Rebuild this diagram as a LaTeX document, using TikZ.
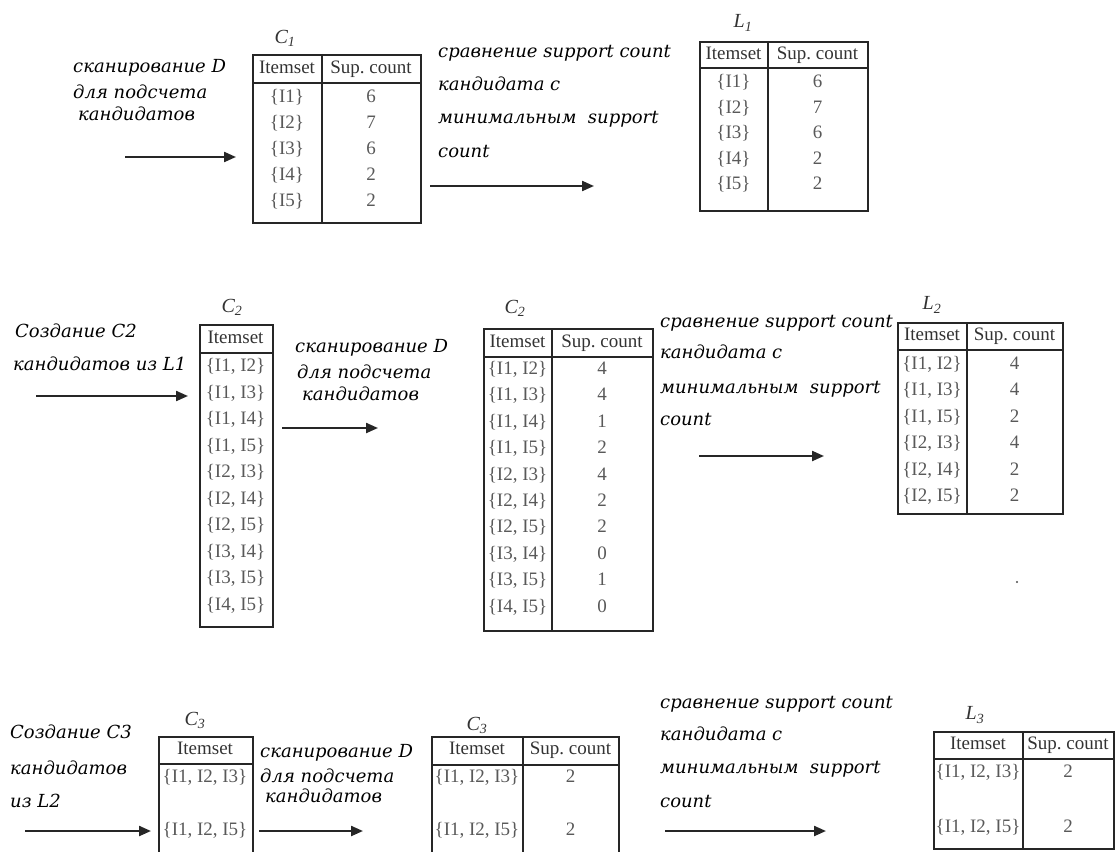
\documentclass[tikz,border=0pt]{standalone}
\usepackage{fontspec}
\setmainfont{Liberation Serif}
\newfontfamily\notefont{DejaVu Serif}
\usetikzlibrary{arrows.meta}
\tikzset{
  tbl/.style={draw=black!85, line width=2pt, inner sep=0pt, anchor=north west},
  rule/.style={draw=black!85, line width=2pt},
  cell/.style={font=\fontsize{19}{22}\selectfont, text=black!65, inner sep=0pt, text height=13pt, text depth=4pt},
  hcell/.style={cell, text=black!80},
  lbl/.style={font=\fontsize{20}{22}\selectfont\itshape, text=black!80, inner sep=0pt},
  note/.style={font=\notefont\itshape\fontsize{18}{20}\selectfont, anchor=base west, inner sep=0pt},
  arr/.style={draw=black!85, line width=2.2pt, -{Triangle[length=12pt,width=10pt]}},
}
\begin{document}
\begin{tikzpicture}[x=1pt,y=-1pt]
\useasboundingbox (0,0) rectangle (1115,851);
\clip (0,0) rectangle (1115,851);

% ---------------- top row ----------------
\node[note] (t1a) at (73,72) {сканирование D};
\node[note] (t1b) at (73,98) {для подсчета};
\node[note] (t1c) at (78,120) {кандидатов};
\coordinate (a1s) at (125,157); \coordinate (a1e) at (236,157);
\draw[arr] (a1s) -- (a1e);

\node[lbl] (c1l) at (285,38) {C\textsubscript{1}};
\node[tbl, minimum width=168pt, minimum height=168pt] (c1) at (252,54) {};
\draw[rule] ([yshift=-29pt]c1.north west) -- ([yshift=-29pt]c1.north east);
\draw[rule] ([xshift=70pt]c1.north west) -- ([xshift=70pt]c1.south west);
\node[hcell] (c1h1) at (287,68.5) {Itemset};
\node[hcell] (c1h2) at (371,68.5) {Sup.\ count};
\foreach \t/\n [count=\k] in {I1/6,I2/7,I3/6,I4/2,I5/2}{
  \node[cell] (c1a\k) at (287,{98+26*(\k-1)}) {\{\t\}};
  \node[cell] (c1b\k) at (371,{98+26*(\k-1)}) {\n};
}

\node[note] (t2a) at (438,58) {сравнение support count};
\node[note] (t2b) at (438,90) {кандидата с};
\node[note] (t2c) at (438,123) {минимальным\ \ support};
\node[note] (t2d) at (438,157) {count};
\coordinate (a2s) at (430,186); \coordinate (a2e) at (594,186);
\draw[arr] (a2s) -- (a2e);

\node[lbl] (l1l) at (743,23) {L\textsubscript{1}};
\node[tbl, minimum width=168pt, minimum height=169pt] (l1) at (699,41) {};
\draw[rule] ([yshift=-27pt]l1.north west) -- ([yshift=-27pt]l1.north east);
\draw[rule] ([xshift=69pt]l1.north west) -- ([xshift=69pt]l1.south west);
\node[hcell] (l1h1) at (733.5,55) {Itemset};
\node[hcell] (l1h2) at (817.5,55) {Sup.\ count};
\foreach \t/\n [count=\k] in {I1/6,I2/7,I3/6,I4/2,I5/2}{
  \node[cell] (l1a\k) at (733.5,{83+25.5*(\k-1)}) {\{\t\}};
  \node[cell] (l1b\k) at (817.5,{83+25.5*(\k-1)}) {\n};
}

% ---------------- middle row ----------------
\node[note] (m1a) at (15,337) {Создание C2};
\node[note] (m1b) at (13,370) {кандидатов из L1};
\coordinate (a3s) at (36,396); \coordinate (a3e) at (188,396);
\draw[arr] (a3s) -- (a3e);

\node[lbl] (c2l) at (232,307) {C\textsubscript{2}};
\node[tbl, minimum width=73pt, minimum height=302pt] (c2) at (199,324) {};
\draw[rule] ([yshift=-29pt]c2.north west) -- ([yshift=-29pt]c2.north east);
\node[hcell] (c2h1) at (235.5,339) {Itemset};
\foreach \t [count=\k] in {{I1, I2},{I1, I3},{I1, I4},{I1, I5},{I2, I3},{I2, I4},{I2, I5},{I3, I4},{I3, I5},{I4, I5}}{
  \node[cell] (c2a\k) at (235.5,{367+26.5*(\k-1)}) {\{\t\}};
}

\node[note] (m2a) at (295,352) {сканирование D};
\node[note] (m2b) at (297,378) {для подсчета};
\node[note] (m2c) at (302,400) {кандидатов};
\coordinate (a4s) at (282,428); \coordinate (a4e) at (378,428);
\draw[arr] (a4s) -- (a4e);

\node[lbl] (c2bl) at (515,308) {C\textsubscript{2}};
\node[tbl, minimum width=169pt, minimum height=302pt] (c2b) at (483,328) {};
\draw[rule] ([yshift=-29pt]c2b.north west) -- ([yshift=-29pt]c2b.north east);
\draw[rule] ([xshift=69pt]c2b.north west) -- ([xshift=69pt]c2b.south west);
\node[hcell] (c2bh1) at (517.5,343) {Itemset};
\node[hcell] (c2bh2) at (602,343) {Sup.\ count};
\foreach \t/\n [count=\k] in {{I1, I2}/4,{I1, I3}/4,{I1, I4}/1,{I1, I5}/2,{I2, I3}/4,{I2, I4}/2,{I2, I5}/2,{I3, I4}/0,{I3, I5}/1,{I4, I5}/0}{
  \node[cell] (c2ba\k) at (517.5,{370+26.4*(\k-1)}) {\{\t\}};
  \node[cell] (c2bb\k) at (602,{370+26.4*(\k-1)}) {\n};
}

\node[note] (m3a) at (660,327) {сравнение support count};
\node[note] (m3b) at (660,358) {кандидата с};
\node[note] (m3c) at (660,393) {минимальным\ \ support};
\node[note] (m3d) at (660,425) {count};
\coordinate (a5s) at (699,456); \coordinate (a5e) at (824,456);
\draw[arr] (a5s) -- (a5e);

\node[lbl] (l2l) at (932,305) {L\textsubscript{2}};
\node[tbl, minimum width=165pt, minimum height=191pt] (l2) at (897,322) {};
\draw[rule] ([yshift=-28pt]l2.north west) -- ([yshift=-28pt]l2.north east);
\draw[rule] ([xshift=70pt]l2.north west) -- ([xshift=70pt]l2.south west);
\node[hcell] (l2h1) at (932,336) {Itemset};
\node[hcell] (l2h2) at (1014.5,336) {Sup.\ count};
\foreach \t/\n [count=\k] in {{I1, I2}/4,{I1, I3}/4,{I1, I5}/2,{I2, I3}/4,{I2, I4}/2,{I2, I5}/2}{
  \node[cell] (l2a\k) at (932,{365+26.4*(\k-1)}) {\{\t\}};
  \node[cell] (l2b\k) at (1014.5,{365+26.4*(\k-1)}) {\n};
}
\fill[black!70] (1017,582) circle (1.2pt);

% ---------------- bottom row ----------------
\node[note] (b1a) at (10,738) {Создание C3};
\node[note] (b1b) at (10,774) {кандидатов};
\node[note] (b1c) at (10,807) {из L2};
\coordinate (a6s) at (25,831); \coordinate (a6e) at (151,831);
\draw[arr] (a6s) -- (a6e);

\node[lbl] (c3l) at (195,720) {C\textsubscript{3}};
\node[tbl, minimum width=94pt, minimum height=130pt] (c3) at (158,736) {};
\draw[rule] ([yshift=-28pt]c3.north west) -- ([yshift=-28pt]c3.north east);
\node[hcell] (c3h1) at (205,750) {Itemset};
\node[cell] (c3a1) at (205,778) {\{I1, I2, I3\}};
\node[cell] (c3a2) at (205,831) {\{I1, I2, I5\}};

\node[note] (b2a) at (260,757) {сканирование D};
\node[note] (b2b) at (260,782) {для подсчета};
\node[note] (b2c) at (265,802) {кандидатов};
\coordinate (a7s) at (259,831); \coordinate (a7e) at (363,831);
\draw[arr] (a7s) -- (a7e);

\node[lbl] (c3bl) at (477,725) {C\textsubscript{3}};
\node[tbl, minimum width=187pt, minimum height=130pt] (c3b) at (431,736) {};
\draw[rule] ([yshift=-29pt]c3b.north west) -- ([yshift=-29pt]c3b.north east);
\draw[rule] ([xshift=92pt]c3b.north west) -- ([xshift=92pt]c3b.south west);
\node[hcell] (c3bh1) at (477,750) {Itemset};
\node[hcell] (c3bh2) at (570.5,750) {Sup.\ count};
\node[cell] (c3ba1) at (477,778) {\{I1, I2, I3\}};
\node[cell] (c3bb1) at (570.5,778) {2};
\node[cell] (c3ba2) at (477,831) {\{I1, I2, I5\}};
\node[cell] (c3bb2) at (570.5,831) {2};

\node[note] (b3a) at (660,708) {сравнение support count};
\node[note] (b3b) at (660,740) {кандидата с};
\node[note] (b3c) at (660,773) {минимальным\ \ support};
\node[note] (b3d) at (660,807) {count};
\coordinate (a8s) at (665,831); \coordinate (a8e) at (826,831);
\draw[arr] (a8s) -- (a8e);

\node[lbl] (l3l) at (975,715) {L\textsubscript{3}};
\node[tbl, minimum width=180pt, minimum height=117pt] (l3) at (933,731) {};
\draw[rule] ([yshift=-28pt]l3.north west) -- ([yshift=-28pt]l3.north east);
\draw[rule] ([xshift=90pt]l3.north west) -- ([xshift=90pt]l3.south west);
\node[hcell] (l3h1) at (978,745) {Itemset};
\node[hcell] (l3h2) at (1068,745) {Sup.\ count};
\node[cell] (l3a1) at (978,773) {\{I1, I2, I3\}};
\node[cell] (l3b1) at (1068,773) {2};
\node[cell] (l3a2) at (978,828) {\{I1, I2, I5\}};
\node[cell] (l3b2) at (1068,828) {2};
\end{tikzpicture}
\end{document}
